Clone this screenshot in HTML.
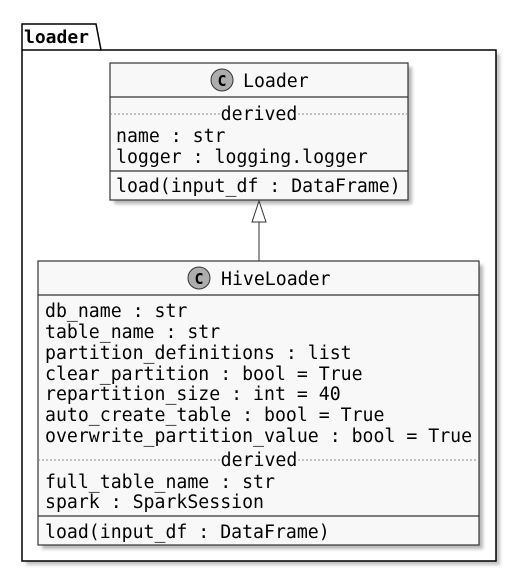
<!DOCTYPE html>
<html><head><meta charset="utf-8"><style>
html,body{margin:0;padding:0;background:#fff;}
svg text{font-family:"DejaVu Sans Mono","Liberation Mono",monospace;font-size:18.2px;fill:#000;}
</style></head><body>
<svg width="517" height="572" xmlns="http://www.w3.org/2000/svg">
<defs><filter id="s" x="-10%" y="-10%" width="120%" height="120%"><feGaussianBlur stdDeviation="1.5"/></filter></defs>
<rect x="26" y="54" width="474" height="511" fill="#999" filter="url(#s)" opacity="0.6"/>
<path d="M22 24 L96 24 L101 50 L496 50 L496 561 L22 561 Z" fill="#fff" stroke="#000" stroke-width="1.5"/>
<line x1="22" y1="50" x2="101" y2="50" stroke="#000" stroke-width="1.5"/>
<text x="24" y="43" style="font-weight:bold;font-size:18px">loader</text>
<rect x="114" y="67" width="298" height="137" fill="#999" filter="url(#s)" opacity="0.7"/>
<rect x="110" y="63" width="298" height="137" fill="#f8f8f8" stroke="#333" stroke-width="1.2"/>
<circle cx="222" cy="80" r="11" fill="#adadad" stroke="#333"/>
<text x="222" y="86" text-anchor="middle" style="font-weight:bold;font-size:15px">C</text>
<text x="243" y="87">Loader</text>
<line x1="110" y1="97" x2="408" y2="97" stroke="#333" stroke-width="1.2"/>
<line x1="110" y1="114" x2="408" y2="114" stroke="#888" stroke-dasharray="2,2"/>
<rect x="221" y="104" width="77" height="18" fill="#f8f8f8"/>
<text x="259" y="120" text-anchor="middle">derived</text>
<text x="116" y="142">name : str</text>
<text x="116" y="163">logger : logging.logger</text>
<line x1="110" y1="171" x2="408" y2="171" stroke="#333" stroke-width="1.2"/>
<text x="116" y="192">load(input_df : DataFrame)</text>
<line x1="259" y1="222" x2="259" y2="261" stroke="#333"/>
<polygon points="259,201 252,222 266,222" fill="#fff" stroke="#333"/>
<rect x="42" y="265" width="441" height="284" fill="#999" filter="url(#s)" opacity="0.7"/>
<rect x="38" y="261" width="441" height="284" fill="#f8f8f8" stroke="#333" stroke-width="1.2"/>
<circle cx="199" cy="278" r="11" fill="#adadad" stroke="#333"/>
<text x="199" y="284" text-anchor="middle" style="font-weight:bold;font-size:15px">C</text>
<text x="221" y="285">HiveLoader</text>
<line x1="38" y1="295" x2="479" y2="295" stroke="#333" stroke-width="1.2"/>
<text x="45" y="317">db_name : str</text>
<text x="45" y="338">table_name : str</text>
<text x="45" y="359">partition_definitions : list</text>
<text x="45" y="380">clear_partition : bool = True</text>
<text x="45" y="400">repartition_size : int = 40</text>
<text x="45" y="421">auto_create_table : bool = True</text>
<text x="45" y="442">overwrite_partition_value : bool = True</text>
<line x1="38" y1="460" x2="479" y2="460" stroke="#888" stroke-dasharray="2,2"/>
<rect x="221" y="450" width="77" height="18" fill="#f8f8f8"/>
<text x="259" y="466" text-anchor="middle">derived</text>
<text x="45" y="488">full_table_name : str</text>
<text x="45" y="508">spark : SparkSession</text>
<line x1="38" y1="516" x2="479" y2="516" stroke="#333" stroke-width="1.2"/>
<text x="45" y="538">load(input_df : DataFrame)</text>
</svg>
</body></html>
